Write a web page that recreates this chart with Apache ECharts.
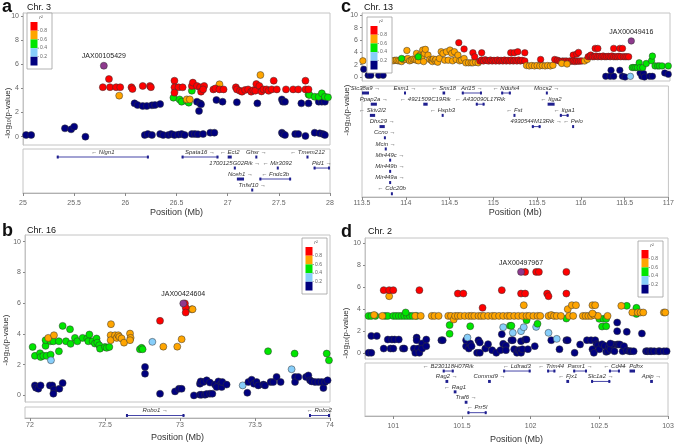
<!DOCTYPE html>
<html><head><meta charset="utf-8">
<script src="https://cdn.jsdelivr.net/npm/echarts@6/dist/echarts.min.js"></script>
<style>html,body{margin:0;padding:0;background:#fff}#c{width:677px;height:445px}</style>
</head><body><div id="c"></div>
<script>
// ---------- Panel a : Chr. 3 ----------
const aPoints = [
 [25.03,0.14,.1],[25.08,0.14,.1],[25.41,0.69,.1],[25.47,0.61,.1],[25.50,0.83,.1],[25.61,0.0,.1],
 [26.09,2.76,.1],[26.12,2.62,.1],[26.17,2.54,.1],[26.21,2.54,.1],[26.26,2.6,.1],[26.29,2.62,.1],[26.34,2.7,.1],
 [26.19,0.14,.1],[26.22,0.22,.1],[26.26,0.14,.1],[26.34,0.22,.1],[26.37,0.14,.1],[26.42,0.14,.1],[26.45,0.22,.1],[26.48,0.14,.1],[26.52,0.17,.1],[26.55,0.22,.1],[26.58,0.14,.1],[26.65,0.22,.1],[26.68,0.22,.1],[26.71,0.2,.1],[26.76,0.22,.1],[26.83,0.33,.1],[26.87,0.33,.1],
 [26.70,2.9,.1],[26.73,2.76,.1],[26.74,2.68,.1],[26.72,2.13,.1],[26.89,3.04,.1],[26.95,2.9,.1],[27.09,2.85,.1],[27.29,2.76,.1],
 [27.53,3.09,.1],[27.54,2.9,.1],[27.56,2.9,.1],[27.72,2.76,.1],[27.79,2.76,.1],[27.89,2.9,.1],[27.92,2.9,.1],[27.95,2.9,.1],
 [27.53,0.33,.1],[27.54,0.22,.1],[27.56,0.14,.1],[27.66,0.22,.1],[27.69,0.22,.1],[27.76,0.06,.1],[27.85,0.33,.1],[27.90,0.28,.1],[27.93,0.22,.1],[27.95,0.14,.1],
 [26.47,3.23,.5],[26.53,3.09,.5],[26.55,2.9,.5],[26.60,2.96,.5],[26.62,2.82,.5],[26.65,3.81,.5],
 [27.79,3.5,.5],[27.80,3.45,.5],[27.85,3.31,.5],[27.89,3.31,.5],[27.92,3.59,.5],[27.95,3.31,.5],[27.98,3.26,.5],
 [25.94,3.4,.7],[26.60,3.09,.7],[26.63,3.09,.7],[26.92,4.34,.7],[27.32,5.11,.7],
 [25.78,4.1,.9],[25.84,4.78,.9],[25.85,4.1,.9],[25.91,4.1,.9],[25.95,4.1,.9],[26.06,4.1,.9],[26.07,3.95,.9],[26.17,4.2,.9],[26.24,4.2,.9],[26.25,4.1,.9],
 [26.48,4.64,.9],[26.48,4.09,.9],[26.52,4.09,.9],[26.56,4.09,.9],[26.65,4.2,.9],[26.66,4.48,.9],[26.70,4.2,.9],[26.73,4.09,.9],[26.74,3.73,.9],[26.48,3.65,.9],[26.77,4.2,.9],
 [26.76,3.92,.9],[26.86,3.92,.9],[26.88,4.0,.9],[26.92,3.92,.9],[26.96,3.92,.9],[27.08,4.09,.9],[27.09,3.92,.9],[27.12,3.8,.9],[27.14,3.73,.9],[27.17,3.87,.9],[27.20,3.92,.9],[27.23,3.73,.9],[27.25,3.85,.9],[27.27,3.81,.9],[27.28,4.36,.9],[27.31,4.2,.9],[27.33,3.75,.9],[27.35,3.92,.9],[27.38,3.92,.9],[27.40,3.8,.9],[27.43,3.92,.9],[27.45,4.64,.9],[27.48,3.92,.9],[27.57,3.92,.9],[27.64,3.92,.9],[27.69,3.92,.9],[27.76,4.64,.9],[27.76,3.92,.9],[27.79,3.92,.9],
 [25.79,5.88,1]
];
const aLead = 'JAX00105429';
const aTicks = [25,25.5,26,26.5,27,27.5,28];
const aGeneNames  = ['Nlgn1','Spata16','Ect2','Ghsr','Tmem212','1700125G02Rik','Mir3092','Pld1','Nceh1','Fndc3b','Tnfsf10'];
const aGeneStart  = [25.33,26.55,27.00,27.27,27.77,27.06,27.48,27.84,27.09,27.31,27.23];
const aGeneEnd    = [26.23,26.91,27.04,27.29,27.79,27.08,27.49,28.00,27.16,27.62,27.25];
const aGeneRow    = [0,0,0,0,0,1,1,1,2,2,3];
const aGeneStrand = [-1,1,-1,1,-1,1,-1,1,1,-1,1];

// ---------- Panel b : Chr. 16 ----------
const bPoints = [
 [72.018,3.15,.5],[72.033,2.57,.5],[72.067,2.74,.5],[72.071,2.5,.5],[72.089,2.57,.5],[72.104,3.22,.5],[72.104,3.59,.5],[72.111,2.57,.5],[72.138,2.65,.5],[72.138,3.52,.5],[72.156,3.52,.5],[72.193,3.52,.5],[72.193,2.87,.5],[72.218,4.52,.5],[72.24,3.52,.5],[72.267,4.3,.5],[72.271,3.35,.5],[72.30,3.74,.5],[72.316,3.52,.5],[72.351,3.74,.5],[72.382,3.7,.5],[72.389,3.52,.5],[72.396,3.96,.5],[72.418,3.52,.5],[72.433,3.37,.5],[72.444,3.7,.5],[72.449,3.43,.5],[72.462,3.26,.5],[72.467,3.04,.5],[72.50,3.15,.5],[72.511,3.09,.5],[72.529,3.15,.5],[72.733,3.0,.5],[72.744,3.09,.5],[72.751,3.0,.5],[73.587,2.87,.5],[73.764,2.72,.5],[73.978,2.72,.5],[73.993,2.28,.5],
 [72.122,3.74,.7],[72.16,3.91,.7],[72.538,3.91,.7],[72.538,3.59,.7],[72.54,4.63,.7],[72.567,3.91,.7],[72.578,3.74,.7],[72.589,3.91,.7],[72.596,3.8,.7],[72.611,3.7,.7],[72.627,3.43,.7],[72.667,4.02,.7],[72.671,3.74,.7],[72.667,3.59,.7],[72.889,3.17,.7],[72.982,3.17,.7],[73.011,3.65,.7],[73.078,5.6,.7],[73.084,5.6,.7],
 [72.14,2.28,.3],[72.816,3.48,.3],[73.418,0.65,.3],[73.744,1.7,.3],
 [72.867,4.85,.9],[73.033,5.98,.9],[73.038,5.7,.9],[73.038,5.39,.9],
 [72.033,0.65,.1],[72.04,0.5,.1],[72.056,0.43,.1],[72.071,0.65,.1],[72.133,0.65,.1],[72.149,0.65,.1],[72.16,0.39,.1],[72.156,0.11,.1],[72.196,0.43,.1],[72.218,0.8,.1],
 [72.767,1.85,.1],[72.767,1.41,.1],[72.867,0.11,.1],[72.967,0.26,.1],[72.993,0.43,.1],[73.011,0.43,.1],[73.093,0.0,.1],[73.133,0.04,.1],[73.144,0.04,.1],[73.167,0.04,.1],[73.178,0.09,.1],[73.20,0.11,.1],[73.216,0.11,.1],
 [73.133,0.76,.1],[73.138,0.91,.1],[73.156,0.87,.1],[73.178,0.98,.1],[73.20,0.83,.1],[73.233,0.7,.1],[73.256,0.91,.1],[73.271,0.7,.1],[73.244,0.54,.1],[73.278,0.54,.1],[73.282,0.87,.1],[73.311,0.7,.1],
 [73.449,0.17,.1],[73.456,0.87,.1],[73.478,1.02,.1],[73.493,0.76,.1],[73.511,0.87,.1],[73.522,0.65,.1],[73.556,0.7,.1],[73.567,0.65,.1],[73.604,0.87,.1],[73.622,0.87,.1],[73.644,1.2,.1],[73.671,0.87,.1],
 [73.767,1.2,.1],[73.767,0.87,.1],[73.789,1.2,.1],[73.84,1.2,.1],[73.856,1.3,.1],[73.867,0.98,.1],[73.878,0.91,.1],[73.90,0.87,.1],[73.922,0.87,.1],[73.944,0.87,.1],[73.956,0.48,.1],[73.967,0.87,.1],[73.984,0.98,.1],
 [73.022,5.98,1]
];
const bLead = 'JAX00424604';
const bTicks = [72,72.5,73,73.5,74];
const bGeneNames  = ['Robo1','Robo2'];
const bGeneStart  = [72.64,73.86];
const bGeneEnd    = [73.03,74.00];
const bGeneRow    = [0,0];
const bGeneStrand = [1,-1];

// ---------- Panel c : Chr. 13 ----------
const cPoints = [
 [113.52,1.26,.1],[113.57,0.27,.1],[113.60,0.27,.1],[113.69,0.27,.1],[113.74,0.27,.1],
 [116.27,0.11,.1],[116.32,0.11,.1],[116.33,1.09,.1],[116.36,0.11,.1],[116.43,1.09,.1],[116.46,0.11,.1],[116.49,0.0,.1],[116.66,0.66,.1],[116.68,0.11,.1],[116.70,0.55,.1],[116.71,0.0,.1],[116.77,0.11,.1],[116.80,0.11,.1],[116.94,0.66,.1],[116.98,0.44,.1],
 [116.55,0.11,.3],
 [113.51,2.62,.7],[113.81,2.62,.7],[113.85,2.62,.7],[113.87,2.7,.7],[113.89,2.73,.7],[113.91,2.62,.7],[113.93,2.62,.7],[113.95,2.5,.7],[113.97,2.84,.7],[114.00,2.84,.7],[114.01,4.3,.7],[114.02,3.0,.7],[114.04,2.62,.7],[114.06,2.73,.7],[114.08,2.9,.7],[114.10,2.84,.7],[114.12,3.83,.7],[114.12,2.73,.7],[114.14,2.62,.7],[114.16,3.55,.7],[114.18,3.28,.7],[114.19,4.37,.7],[114.20,2.5,.7],[114.21,3.83,.7],[114.22,4.48,.7],[114.25,3.55,.7],[114.27,2.84,.7],[114.29,2.73,.7],[114.30,2.5,.7],[114.31,2.9,.7],[114.33,2.62,.7],[114.34,2.84,.7],[114.36,2.4,.7],[114.38,3.0,.7],[114.40,4.1,.7],[114.42,3.83,.7],[114.44,2.73,.7],[114.46,4.1,.7],[114.48,2.73,.7],[114.50,4.37,.7],[114.52,3.83,.7],[114.53,2.62,.7],[114.55,4.1,.7],[114.57,2.84,.7],[114.59,3.55,.7],[114.61,2.62,.7],[114.63,2.73,.7],[114.66,3.0,.7],
 [113.95,3.0,.5],[114.14,3.28,.5],
 [114.68,2.3,.7],[114.71,2.3,.7],[114.74,2.3,.7],[114.76,2.3,.7],[114.79,2.4,.7],[114.82,2.3,.7],
 [114.60,5.57,.9],[114.66,4.54,.9],[114.76,3.93,.9],[114.86,3.93,.9],[114.78,3.28,.9],
 [114.84,2.6,.9],[114.86,2.75,.9],[114.88,2.6,.9],[114.90,2.8,.9],[114.92,2.65,.9],[114.94,2.6,.9],[114.96,2.75,.9],[114.98,2.6,.9],[115.00,2.7,.9],[115.02,2.6,.9],[115.04,2.75,.9],[115.06,2.6,.9],[115.08,2.7,.9],[115.10,2.6,.9],[115.12,2.75,.9],[115.14,2.6,.9],[115.16,2.7,.9],[115.18,2.6,.9],[115.20,2.75,.9],[115.22,2.6,.9],[115.24,2.7,.9],[115.26,2.6,.9],[115.28,2.75,.9],[115.30,2.6,.9],[115.32,2.7,.9],[115.35,2.6,.9],
 [115.19,3.93,.9],[115.23,3.93,.9],[115.27,4.1,.9],[115.35,3.93,.9],
 [115.37,1.86,.7],[115.40,1.8,.7],[115.43,1.86,.7],[115.46,1.8,.7],[115.49,1.86,.7],[115.52,1.8,.7],[115.55,1.86,.7],[115.58,1.8,.7],[115.61,1.86,.7],[115.64,1.8,.7],[115.67,1.9,.7],
 [115.53,2.84,.9],
 [115.69,2.84,.9],[115.72,2.73,.9],[115.74,2.6,.9],[115.76,2.5,.9],[115.78,2.6,.9],[115.80,2.55,.9],[115.82,2.6,.9],[115.84,2.5,.9],[115.86,2.6,.9],[115.88,2.55,.9],[115.90,3.55,.9],[115.90,2.6,.9],[115.92,2.5,.9],[115.94,3.72,.9],[115.94,2.6,.9],[115.96,3.99,.9],[115.96,2.55,.9],[115.98,2.6,.9],[116.00,2.6,.9],
 [115.77,2.2,.7],[115.83,2.1,.7],[116.03,2.6,.7],[116.06,2.84,.7],
 [116.07,3.28,.9],[116.09,3.4,.9],[116.10,3.55,.9],[116.12,3.28,.9],[116.14,3.3,.9],[116.15,4.64,.9],[116.16,3.4,.9],[116.18,4.64,.9],[116.18,3.28,.9],[116.20,3.35,.9],[116.22,3.28,.9],[116.24,3.4,.9],[116.26,3.28,.9],[116.28,3.3,.9],[116.30,3.35,.9],[116.32,3.28,.9],[116.34,3.4,.9],[116.36,4.64,.9],[116.36,3.28,.9],[116.38,3.3,.9],[116.40,3.28,.9],[116.42,3.35,.9],[116.43,4.64,.9],[116.44,3.28,.9],[116.46,4.64,.9],[116.47,3.3,.9],[116.49,3.28,.9],[116.51,3.3,.9],[116.53,3.28,.9],
 [116.57,1.53,.5],[116.59,1.53,.5],[116.61,1.53,.5],[116.63,1.53,.5],[116.65,2.3,.5],[116.66,1.53,.5],[116.69,1.53,.5],[116.73,2.19,.5],[116.79,2.62,.5],[116.80,3.39,.5],[116.83,1.8,.5],[116.86,1.8,.5],[116.88,1.8,.5],[116.91,1.8,.5],[116.98,1.8,.5],
 [116.56,5.85,1]
];
const cLead = 'JAX00049416';
const cTicks = [113.5,114,114.5,115,115.5,116,116.5,117];
const cGeneNames  = ['Slc38a9','Esm1','Snx18','Arl15','Ndufs4','Mocs2','Ppap2a','4921509C19Rik','A430090L17Rik','Itga2','Skiv2l2','Hspb3','Fst','Itga1','Dhx29','4930544M13Rik','Pelo','Ccno','Mcin','Mir449c','Mir449b','Mir449a','Cdc20b'];
const cGeneStart  = [113.50,113.98,114.42,114.64,115.09,115.60,113.60,114.20,114.80,115.62,113.59,114.41,115.23,115.76,113.70,115.44,115.90,113.75,113.76,113.81,113.81,113.81,113.83];
const cGeneEnd    = [113.58,114.00,114.45,114.87,115.20,115.62,113.67,114.25,114.90,115.70,113.65,114.43,115.25,115.86,113.76,115.54,115.92,113.77,113.78,113.83,113.83,113.83,113.85];
const cGeneRow    = [0,0,0,0,0,0,1,1,1,1,2,2,2,2,3,3,3,4,5,6,7,8,9];
const cGeneStrand = [1,1,-1,1,-1,1,1,-1,-1,-1,-1,-1,-1,-1,1,1,-1,1,1,1,1,1,-1];

// ---------- Panel d : Chr. 2 ----------
const dPoints = [
 [100.82,0.06,.1],[100.84,0.06,.1],[100.84,1.6,.1],[100.88,1.6,.1],[100.93,0.45,.1],[100.96,1.27,.1],[100.98,0.45,.1],[100.99,1.27,.1],[101.00,0.45,.1],[101.01,1.27,.1],[101.04,1.27,.1],[101.07,0.45,.1],[101.08,0.45,.1],[101.15,0.45,.1],[101.16,0.06,.1],[101.17,1.45,.1],[101.17,1.21,.1],[101.18,0.45,.1],[101.19,0.06,.1],[101.21,0.91,.1],[101.21,0.45,.1],[101.24,0.67,.1],[101.24,1.27,.1],[101.35,1.21,.1],[101.36,1.21,.1],
 [101.53,0.67,.1],[101.53,1.21,.1],[101.55,0.45,.1],[101.56,0.91,.1],[101.57,0.67,.1],[101.61,0.06,.1],[101.63,0.06,.1],[101.62,1.21,.1],[101.63,1.0,.1],[101.67,0.45,.1],[101.69,0.85,.1],[101.72,0.3,.1],[101.75,0.06,.1],[101.78,0.3,.1],[101.79,1.76,.1],[101.80,0.88,.1],[101.82,0.7,.1],[101.82,0.3,.1],[101.86,1.21,.1],[101.87,1.21,.1],[101.88,0.39,.1],[101.90,0.06,.1],[101.91,0.3,.1],[101.92,0.3,.1],[101.93,0.06,.1],[101.93,1.12,.1],[101.94,0.39,.1],[101.96,1.27,.1],[101.97,1.27,.1],[101.98,0.39,.1],[102.03,0.67,.1],
 [102.15,1.21,.1],[102.21,0.39,.1],[102.26,1.21,.1],[102.27,1.21,.1],[102.32,0.06,.1],[102.36,0.82,.1],[102.41,1.21,.1],[102.44,1.21,.1],[102.45,0.39,.1],[102.46,0.06,.1],[102.47,1.21,.1],[102.48,0.85,.1],[102.49,0.76,.1],[102.50,0.39,.1],[102.52,0.85,.1],[102.54,0.7,.1],[102.55,0.15,.1],[102.56,0.21,.1],[102.57,0.6,.1],[102.58,0.39,.1],[102.60,0.82,.1],[102.61,0.21,.1],[102.58,0.91,.1],[102.63,2.03,.1],[102.63,2.82,.1],[102.63,0.82,.1],[102.64,0.82,.1],[102.65,0.82,.1],[102.67,0.21,.1],[102.68,0.67,.1],[102.70,0.27,.1],[102.70,1.97,.1],[102.72,0.21,.1],[102.73,0.21,.1],[102.75,0.21,.1],[102.81,1.82,.1],[102.84,0.21,.1],[102.85,0.21,.1],[102.87,0.21,.1],[102.88,0.21,.1],[102.90,0.21,.1],[102.93,0.21,.1],[102.94,0.21,.1],[102.97,0.21,.1],[102.99,0.21,.1],
 [101.54,1.45,.3],[101.80,2.39,.3],[101.87,1.88,.3],[101.93,2.03,.3],[101.95,2.39,.3],[102.04,2.42,.3],[102.13,1.88,.3],[102.19,1.33,.3],
 [100.82,3.42,.5],[100.84,3.42,.5],[100.87,3.42,.5],[100.94,3.42,.5],[100.96,3.42,.5],[101.00,3.42,.5],[101.02,3.42,.5],[101.04,3.42,.5],[101.06,3.42,.5],[101.08,3.42,.5],[101.10,3.42,.5],[101.12,3.42,.5],[101.14,3.42,.5],[101.17,3.42,.5],
 [101.09,3.73,.5],[101.41,2.58,.5],[101.41,1.79,.5],[101.56,2.48,.5],[101.85,2.52,.5],[101.86,2.52,.5],[101.97,3.03,.5],[102.05,2.7,.5],[102.26,3.18,.5],[102.50,3.15,.5],[102.53,3.15,.5],[102.55,3.15,.5],[102.52,2.45,.5],[102.55,2.48,.5],[102.70,4.33,.5],[102.76,3.73,.5],[102.77,4.15,.5],[102.77,3.6,.5],
 [100.86,3.5,.7],[100.92,3.42,.7],[100.97,5.21,.7],[101.16,3.42,.7],[101.20,3.42,.7],[101.28,3.42,.7],[101.30,3.42,.7],[101.33,3.42,.7],[101.40,3.42,.7],[101.42,3.42,.7],[101.44,3.09,.7],[101.45,3.42,.7],[101.47,3.42,.7],[101.49,3.42,.7],[101.52,3.42,.7],[101.55,3.42,.7],[101.57,3.42,.7],[101.59,3.42,.7],[101.62,3.42,.7],[101.64,3.42,.7],[101.66,3.42,.7],[101.69,3.42,.7],[101.72,3.42,.7],[101.74,3.42,.7],[101.77,3.42,.7],[101.80,3.42,.7],[101.83,3.42,.7],[101.85,3.42,.7],[101.88,3.42,.7],[101.91,3.42,.7],[101.94,3.42,.7],[101.97,3.42,.7],[101.99,3.42,.7],[102.02,3.42,.7],[102.05,3.42,.7],[102.07,3.42,.7],[102.13,3.42,.7],[102.15,3.5,.7],[102.17,3.42,.7],[102.19,3.42,.7],[102.22,3.42,.7],[102.28,3.42,.7],[102.31,3.42,.7],[102.38,3.42,.7],[102.40,3.42,.7],[102.42,3.42,.7],[102.44,3.42,.7],[102.46,3.5,.7],[102.49,3.42,.7],[102.56,3.42,.7],[102.74,3.73,.7],[102.78,3.73,.7],[102.80,3.73,.7],[102.82,3.73,.7],[102.97,3.73,.7],[102.98,3.73,.7],
 [101.95,4.39,.7],[102.27,4.03,.7],[102.30,4.39,.7],[102.33,4.39,.7],[102.45,4.39,.7],[102.47,4.39,.7],[102.45,3.64,.7],[102.66,4.33,.7],
 [100.93,5.76,.9],[100.97,5.76,.9],[101.00,5.76,.9],[101.19,5.76,.9],[101.47,5.45,.9],[101.51,5.45,.9],[101.65,4.15,.9],[101.79,5.76,.9],[101.93,5.45,.9],[101.96,5.45,.9],[101.96,7.42,.9],[102.04,7.42,.9],[102.06,7.42,.9],[102.12,5.45,.9],[102.13,5.21,.9],[102.26,5.45,.9],[102.26,7.42,.9],
 [101.93,7.42,1]
];
const dLead = 'JAX00497967';
const dTicks = [101,101.5,102,102.5,103];
const dGeneNames  = ['B230118H07Rik','Ldlrad3','Trim44','Pamr1','Cd44','Pdhx','Rag2','Commd9','Fjx1','Slc1a2','Apip','Rag1','Traf6','Prr5l'];
const dGeneStart  = [101.36,101.80,102.12,102.31,102.57,102.72,101.38,101.69,102.26,102.44,102.87,101.44,101.52,101.54];
const dGeneEnd    = [101.44,102.00,102.18,102.41,102.65,102.76,101.40,101.71,102.28,102.58,102.89,101.46,101.54,101.68];
const dGeneRow    = [0,0,0,0,0,0,1,1,1,1,1,2,3,4];
const dGeneStrand = [-1,-1,-1,1,-1,-1,1,1,-1,1,1,-1,1,-1];

const yTicks = [0,2,4,6,8,10];
const legendLabels = ['0.8','0.6','0.4','0.2'];

// ---------- rendering ----------
const FONT = 'Liberation Sans, Arial, sans-serif';
const COLORS = ['#ff0000','#ffa500','#00e600','#87cefa','#00007f'];
function r2Color(r){
  if (r >= 1) return '#8e3a8e';
  if (r >= 0.8) return COLORS[0];
  if (r >= 0.6) return COLORS[1];
  if (r >= 0.4) return COLORS[2];
  if (r >= 0.2) return COLORS[3];
  return COLORS[4];
}

const panels = [
  {pts:aPoints, lead:aLead, ticks:aTicks, names:aGeneNames, gs:aGeneStart, ge:aGeneEnd, gr:aGeneRow, gst:aGeneStrand,
   sGrid:{left:23,top:13,width:307,height:132}, gGrid:{left:23,top:149,width:307,height:44},
   xmin:25, xmax:28, ymin:-0.69, ymax:10.25, rmin:-0.73, rmax:3.27, lblMargin:7, nameGap:15, sym:7},
  {pts:bPoints, lead:bLead, ticks:bTicks, names:bGeneNames, gs:bGeneStart, ge:bGeneEnd, gr:bGeneRow, gst:bGeneStrand,
   sGrid:{left:25,top:235,width:305,height:167}, gGrid:{left:25,top:407,width:305,height:11},
   xmin:71.967, xmax:74, ymin:-0.43, ymax:10.43, rmin:-0.77, rmax:0.23, lblMargin:4, nameGap:15, sym:7},
  {pts:cPoints, lead:cLead, ticks:cTicks, names:cGeneNames, gs:cGeneStart, ge:cGeneEnd, gr:cGeneRow, gst:cGeneStrand,
   sGrid:{left:362,top:13,width:308,height:68}, gGrid:{left:362,top:86,width:308,height:111},
   xmin:113.5, xmax:117, ymin:-0.65, ymax:10.38, rmin:-0.625, rmax:9.29, lblMargin:3, nameGap:11, sym:6.5},
  {pts:dPoints, lead:dLead, ticks:dTicks, names:dGeneNames, gs:dGeneStart, ge:dGeneEnd, gr:dGeneRow, gst:dGeneStrand,
   sGrid:{left:365,top:238,width:303,height:121}, gGrid:{left:365,top:363,width:303,height:56},
   xmin:100.794, xmax:103, ymin:-0.5, ymax:10.5, rmin:-0.77, rmax:4.32, lblMargin:7, nameGap:19, sym:7}
];

const grid = [], xAxis = [], yAxis = [], series = [];
panels.forEach((p, i) => {
  const gs = 2*i, gg = 2*i+1;
  const border = {show:true, borderColor:'#c4c4c4', borderWidth:1, backgroundColor:'rgba(0,0,0,0)'};
  grid.push(Object.assign({}, p.sGrid, border));
  grid.push(Object.assign({}, p.gGrid, border));
  xAxis.push({gridIndex:gs, type:'value', min:p.xmin, max:p.xmax, axisLine:{show:false}, axisTick:{show:false}, axisLabel:{show:false}, splitLine:{show:false}});
  xAxis.push({gridIndex:gg, type:'value', min:p.xmin, max:p.xmax,
    axisLine:{show:true, onZero:false, lineStyle:{color:'#b0b0b0'}},
    axisTick:{show:true, customValues:p.ticks, length:3, lineStyle:{color:'#888'}},
    axisLabel:{customValues:p.ticks, fontSize:7, color:'#666', margin:p.lblMargin, fontFamily:FONT, formatter:v=>String(v)},
    splitLine:{show:false},
    name:'Position (Mb)', nameLocation:'middle', nameGap:p.nameGap, nameTextStyle:{fontSize:9, color:'#333', fontFamily:FONT}});
  yAxis.push({gridIndex:gs, type:'value', min:p.ymin, max:p.ymax,
    axisLine:{show:true, onZero:false, lineStyle:{color:'#c4c4c4'}},
    axisTick:{show:true, customValues:yTicks, length:2, lineStyle:{color:'#888'}},
    axisLabel:{customValues:yTicks, fontSize:7, color:'#666', margin:4, fontFamily:FONT},
    splitLine:{show:false}});
  yAxis.push({gridIndex:gg, type:'value', min:p.rmin, max:p.rmax, inverse:true, show:false});

  series.push({type:'scatter', xAxisIndex:gs, yAxisIndex:gs, symbolSize:p.sym, z:3,
    data:p.pts.map(d => d[2] >= 1
      ? {value:d, label:{show:true, formatter:p.lead, position:'top', distance:2, fontSize:7, color:'#222', fontFamily:FONT}}
      : {value:d}),
    itemStyle:{color:prm => r2Color(prm.value[2]), borderColor:'#333', borderWidth:0.5, opacity:1},
    emphasis:{disabled:true}, animation:false});

  const names = p.names, strands = p.gst;
  series.push({type:'custom', xAxisIndex:gg, yAxisIndex:gg, clip:false, animation:false,
    encode:{x:[0,1], y:2},
    data:p.gs.map((s,k) => [s, p.ge[k], p.gr[k], strands[k]]),
    renderItem:(params, api) => {
      const a = api.coord([api.value(0), api.value(2)]);
      const b = api.coord([api.value(1), api.value(2)]);
      const w = b[0] - a[0];
      const idx = params.dataIndex;
      const txt = strands[idx] > 0 ? names[idx] + ' \u2192' : '\u2190 ' + names[idx];
      const ch = [];
      const col = '#1f1f8f';
      if (w < 8) {
        ch.push({type:'rect', shape:{x:a[0], y:a[1]-1.5, width:Math.max(w,2), height:3}, style:{fill:col}});
      } else {
        ch.push({type:'rect', shape:{x:a[0], y:a[1]-0.5, width:w, height:1}, style:{fill:'#4646a8'}});
        ch.push({type:'rect', shape:{x:a[0], y:a[1]-1.5, width:2, height:3}, style:{fill:col}});
        ch.push({type:'rect', shape:{x:b[0]-2, y:a[1]-1.5, width:2, height:3}, style:{fill:col}});
      }
      ch.push({type:'text', x:(a[0]+b[0])/2, y:a[1]-2,
        style:{text:txt, align:'center', verticalAlign:'bottom', fontSize:6, fontStyle:'italic', fontFamily:FONT, fill:'#333'}});
      return {type:'group', children:ch};
    }});
});

function legend(L, T){
  const els = [];
  els.push({type:'rect', shape:{x:L, y:T, width:25, height:56}, style:{fill:'#fff', stroke:'#a0a0a0', lineWidth:0.8}, z:10});
  els.push({type:'text', x:L+14, y:T+5, style:{text:'r\u00b2', fontSize:5, fontStyle:'italic', fill:'#555', align:'center', verticalAlign:'middle', fontFamily:FONT}, z:11});
  COLORS.forEach((c,k) => {
    els.push({type:'rect', shape:{x:L+3.5, y:T+9+k*8.7, width:7, height:8.7}, style:{fill:c}, z:11});
  });
  legendLabels.forEach((t,k) => {
    const y = T+9+(k+1)*8.7;
    els.push({type:'rect', shape:{x:L+10.5, y:y-0.3, width:1.5, height:0.6}, style:{fill:'#777'}, z:11});
    els.push({type:'text', x:L+13, y:y, style:{text:t, fontSize:5, fill:'#666', align:'left', verticalAlign:'middle', fontFamily:FONT}, z:11});
  });
  return els;
}
function ylab(x, y){
  return {type:'text', x:x, y:y, rotation:Math.PI/2, style:{text:'-log\u2081\u2080(p-value)', fontSize:8, fill:'#333', align:'center', verticalAlign:'middle', fontFamily:FONT}};
}
function t(x, y, s, size, bold){
  return {type:'text', x:x, y:y, style:{text:s, fontSize:size, fontWeight:bold?'bold':'normal', fill:'#111', fontFamily:FONT, align:'left', verticalAlign:'top'}};
}

const graphic = [
  t(2,-2,'a',18,true), t(27,3,'Chr. 3',9,false),
  t(2,222,'b',18,true), t(27,226,'Chr. 16',9,false),
  t(341,-2,'c',18,true), t(364,3,'Chr. 13',9,false),
  t(341,223,'d',18,true), t(368,227,'Chr. 2',9,false),
  ylab(8,113), ylab(6,340), ylab(347,110), ylab(346,333)
].concat(legend(27,13), legend(302,238), legend(367,17), legend(638,241));

const chart = echarts.init(document.getElementById('c'), null, {renderer:'canvas'});
chart.setOption({animation:false, grid, xAxis, yAxis, series, graphic});
</script></body></html>
